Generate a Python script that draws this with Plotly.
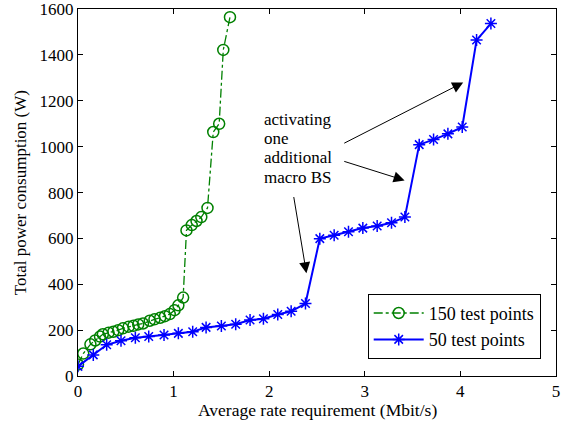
import plotly.graph_objects as go

# 150 test points series (green)
x150 = [0.0, 0.055, 0.13, 0.18, 0.23, 0.26, 0.32, 0.37, 0.42, 0.47, 0.53, 0.58, 0.63, 0.68,
        0.75, 0.80, 0.86, 0.91, 0.96, 1.01, 1.05, 1.10, 1.135, 1.19, 1.24, 1.29, 1.355,
        1.415, 1.477, 1.52, 1.59]
y150 = [50, 98, 138, 155, 172, 182, 189, 193, 200, 208, 215, 219, 225, 229,
        241, 247, 254, 261, 270, 287, 308, 342, 635, 658, 676, 693, 733,
        1064, 1100, 1422, 1565]

# 50 test points series (blue)
x50 = [0.0, 0.16, 0.30, 0.45, 0.60, 0.74, 0.90, 1.05, 1.20, 1.34, 1.50, 1.65, 1.80, 1.94,
       2.09, 2.23, 2.38, 2.53, 2.68, 2.83, 2.98, 3.13, 3.28, 3.42, 3.57, 3.72, 3.87, 4.02,
       4.17, 4.32]
y50 = [42, 92, 136, 154, 167, 172, 179, 186, 193, 212, 218, 226, 244, 250,
       268, 282, 316, 599, 614, 629, 645, 654, 668, 693, 1009, 1031, 1056, 1086,
       1465, 1537]

xticks = [0, 1, 2, 3, 4, 5]
yticks = [0, 200, 400, 600, 800, 1000, 1200, 1400, 1600]

annot_lines = ["activating", "one", "additional", "macro BS"]
x_title = "Average rate requirement (Mbit/s)"
y_title = "Total power consumption (W)"

FONT = "Liberation Serif, Times New Roman, serif"

fig = go.Figure()
fig.add_trace(go.Scatter(
    x=x150, y=y150, mode="lines+markers", name="150 test points",
    line=dict(color="#008000", width=1.3, dash="dashdot"),
    marker=dict(symbol="circle-open", size=11, color="#008000", line=dict(width=1.5)),
))
fig.add_trace(go.Scatter(
    x=x50, y=y50, mode="lines+markers", name="50 test points",
    line=dict(color="#0000FF", width=2),
    marker=dict(symbol="asterisk-open", size=10, color="#0000FF", line=dict(width=1.5, color="#0000FF")),
))

# annotation text, one line each (tight line spacing)
for i, t in enumerate(annot_lines):
    fig.add_annotation(
        x=(262 - 78) / 95.7, y=(376.4 - (119.5 + 19.3 * i)) / 0.2295, xref="x", yref="y",
        text=t, showarrow=False, xanchor="left", yanchor="middle", align="left",
        font=dict(family=FONT, size=17, color="black"),
    )
arrows = [
    # (tip_x, tip_y, tail_x, tail_y) in data coords
    (4.03, 1280, 2.77, 1012),
    (3.417, 853, 2.77, 938),
    (2.39, 448, 2.255, 787),
]
for tx, ty, ax, ay in arrows:
    fig.add_annotation(
        x=tx, y=ty, ax=ax, ay=ay, xref="x", yref="y", axref="x", ayref="y",
        text="", showarrow=True, arrowhead=2, arrowsize=2.2, arrowwidth=1,
        arrowcolor="black",
    )

# axis titles placed as paper annotations
fig.add_annotation(x=0.5, y=-0.092, xref="paper", yref="paper", text=x_title,
                   showarrow=False, xanchor="center", yanchor="middle",
                   font=dict(family=FONT, size=17.5, color="black"))
fig.add_annotation(x=-0.12, y=0.5, xref="paper", yref="paper", text=y_title,
                   showarrow=False, xanchor="center", yanchor="middle", textangle=-90,
                   font=dict(family=FONT, size=17, color="black"))

axis_common = dict(
    showgrid=False, zeroline=False, showline=True, linecolor="black", linewidth=1,
    mirror="ticks", ticks="inside", ticklen=5, tickcolor="black",
    tickfont=dict(family=FONT, size=17, color="black"),
    ticklabeloverflow="allow", automargin=False,
)
fig.update_xaxes(range=[0, 5.001], tickvals=xticks, **axis_common)
fig.update_yaxes(range=[0, 1600.5], tickvals=yticks, **axis_common)

fig.update_layout(
    width=565, height=428,
    margin=dict(l=78, r=9, t=9, b=52),
    plot_bgcolor="white", paper_bgcolor="white",
    font=dict(family=FONT, size=17, color="black"),
    legend=dict(x=0.968, y=0.224, xanchor="right", yanchor="top",
                bordercolor="black", borderwidth=1, bgcolor="white",
                font=dict(family=FONT, size=18, color="black"),
                tracegroupgap=0, itemwidth=50),
    showlegend=True,
)

fig.write_html("out.html")
